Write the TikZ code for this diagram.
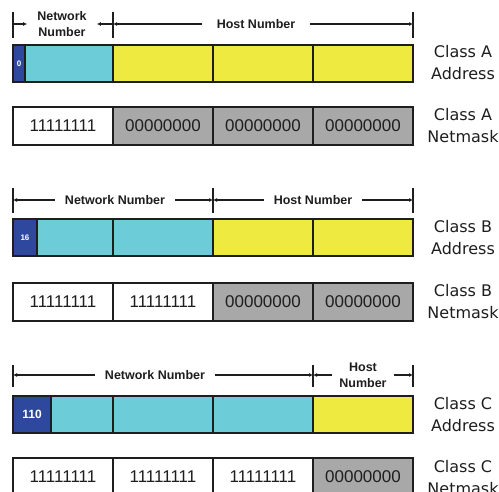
\documentclass[tikz,border=0pt]{standalone}
\usepackage{fontspec}
\setmainfont{Liberation Sans}
\newfontfamily\labelfont{DejaVu Sans}
\usetikzlibrary{arrows.meta,positioning}

\definecolor{netblue}{RGB}{46,72,158}
\definecolor{netcyan}{RGB}{108,204,216}
\definecolor{hostyellow}{RGB}{238,234,64}
\definecolor{maskgray}{RGB}{168,168,168}
\definecolor{edge}{RGB}{30,30,30}

\begin{document}
\begin{tikzpicture}[x=1pt, y=-1pt,
    cell/.style={draw=edge, line width=1.3pt, minimum height=37, inner sep=0pt, outer sep=0pt, anchor=north west},
    byte/.style={cell, minimum width=100},
    netbits/.style={cell, fill=netblue, text=white, font=\bfseries\fontsize{8}{8}\selectfont},
    netfield/.style={byte, fill=netcyan},
    hostfield/.style={byte, fill=hostyellow},
    ones/.style={byte, minimum height=38, fill=white, text=edge, font=\fontsize{17}{17}\selectfont},
    zeros/.style={ones, fill=maskgray},
    hdr/.style={font=\bfseries\fontsize{12.5}{16}\selectfont, align=center, inner xsep=10pt, inner ysep=0pt, text=edge},
    dim/.style={line width=1.1pt, draw=edge, -{Latex[length=4pt,width=4pt]}},
    tick/.style={line width=1.1pt, draw=edge},
    side/.style={font=\labelfont\fontsize{16}{22}\selectfont, align=center, text=edge}]

    \useasboundingbox (0,0) rectangle (499,492);

    % Class A
    \draw[tick] (13,12) -- (13,38);
    \draw[tick] (113,12) -- (113,38);
    \draw[tick] (413,12) -- (413,38);
    \coordinate (ta0) at (13,24);
    \coordinate (ta1) at (113,24);
    \coordinate (ta2) at (413,24);
    \node[hdr] (neta) at (62,24) {Network\\Number};
    \node[hdr, inner xsep=15pt] (hosta) at (256,24) {Host Number};
    \draw[dim] (ta0) -- (neta.west);
    \draw[dim] (ta1) -- (neta.east);
    \draw[dim] (hosta.west) -- (ta1);
    \draw[dim] (hosta.east) -- (ta2);

    \node[netbits, minimum width=12] (a0) at (13,45) {0};
    \node[netfield, minimum width=88, right=0pt of a0] (a1) {};
    \node[hostfield, right=0pt of a1] (a2) {};
    \node[hostfield, right=0pt of a2] (a3) {};
    \node[hostfield, right=0pt of a3] (a4) {};
    \node[side] (adra) at (463,63) {Class A\\Address};

    \node[ones] (ma1) at (13,107) {11111111};
    \node[zeros, right=0pt of ma1] (ma2) {00000000};
    \node[zeros, right=0pt of ma2] (ma3) {00000000};
    \node[zeros, right=0pt of ma3] (ma4) {00000000};
    \node[side] (maska) at (463,126) {Class A\\Netmask};

    % Class B
    \draw[tick] (13,188) -- (13,213);
    \draw[tick] (213,188) -- (213,213);
    \draw[tick] (413,188) -- (413,213);
    \coordinate (tb0) at (13,200);
    \coordinate (tb1) at (213,200);
    \coordinate (tb2) at (413,200);
    \node[hdr] (netb) at (115,200) {Network Number};
    \node[hdr] (hostb) at (313,200) {Host Number};
    \draw[dim] (netb.west) -- (tb0);
    \draw[dim] (netb.east) -- (tb1);
    \draw[dim] (hostb.west) -- (tb1);
    \draw[dim] (hostb.east) -- (tb2);

    \node[netbits, minimum width=24] (b0) at (13,219) {16};
    \node[netfield, minimum width=76, right=0pt of b0] (b1) {};
    \node[netfield, right=0pt of b1] (b2) {};
    \node[hostfield, right=0pt of b2] (b3) {};
    \node[hostfield, right=0pt of b3] (b4) {};
    \node[side] (adrb) at (463,238) {Class B\\Address};

    \node[ones] (mb1) at (13,283) {11111111};
    \node[ones, right=0pt of mb1] (mb2) {11111111};
    \node[zeros, right=0pt of mb2] (mb3) {00000000};
    \node[zeros, right=0pt of mb3] (mb4) {00000000};
    \node[side] (maskb) at (463,302) {Class B\\Netmask};

    % Class C
    \draw[tick] (13,365) -- (13,387);
    \draw[tick] (313,365) -- (313,387);
    \draw[tick] (413,365) -- (413,387);
    \coordinate (tc0) at (13,375);
    \coordinate (tc1) at (313,375);
    \coordinate (tc2) at (413,375);
    \node[hdr] (netc) at (155,375) {Network Number};
    \node[hdr, inner xsep=7pt] (hostc) at (363,375) {Host\\Number};
    \draw[dim] (netc.west) -- (tc0);
    \draw[dim] (netc.east) -- (tc1);
    \draw[dim] (hostc.west) -- (tc1);
    \draw[dim] (hostc.east) -- (tc2);

    \node[netbits, minimum width=38, font=\bfseries\fontsize{12}{12}\selectfont] (c0) at (13,396) {110};
    \node[netfield, minimum width=62, right=0pt of c0] (c1) {};
    \node[netfield, right=0pt of c1] (c2) {};
    \node[netfield, right=0pt of c2] (c3) {};
    \node[hostfield, right=0pt of c3] (c4) {};
    \node[side] (adrc) at (463,415) {Class C\\Address};

    \node[ones] (mc1) at (13,458) {11111111};
    \node[ones, right=0pt of mc1] (mc2) {11111111};
    \node[ones, right=0pt of mc2] (mc3) {11111111};
    \node[zeros, right=0pt of mc3] (mc4) {00000000};
    \node[side] (maskc) at (463,478) {Class C\\Netmask};
\end{tikzpicture}
\end{document}
